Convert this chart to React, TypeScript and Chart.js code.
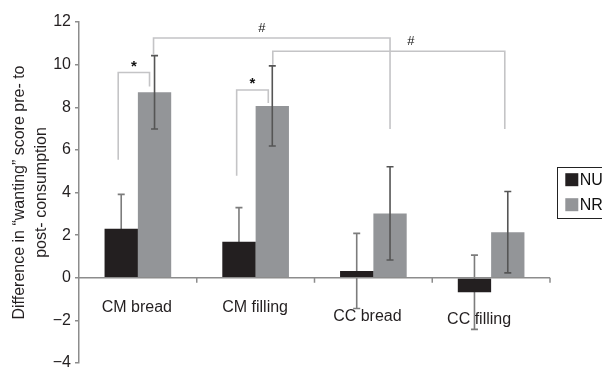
import React, { useEffect, useRef } from "react";
import { Chart, registerables } from "chart.js";

Chart.register(...registerables);

// ---------- data ----------
const categories = ["CM bread", "CM filling", "CC bread", "CC filling"];
const seriesNames = ["NU", "NR"];
const nuValues = [2.3, 1.69, 0.32, -0.68];
const nuErrors = [1.61, 1.6, 1.76, 1.74];
const nrValues = [8.7, 8.06, 3.02, 2.14];
const nrErrors = [1.72, 1.88, 2.19, 1.91];
const yTicks = [-4, -2, 0, 2, 4, 6, 8, 10, 12];
const yTitle = ["Difference in \u201cwanting\u201d score pre- to", "post- consumption"];

// significance brackets: [category, series] from -> to, levels [left leg bottom, top, right leg bottom]
const bracketFrom = [[0, 0], [1, 0], [0, 1], [1, 1]];
const bracketTo = [[0, 1], [1, 1], [2, 1], [3, 1]];
const bracketLevels = [
  [5.54, 9.63, 8.97],
  [4.79, 8.81, 8.2],
  [10.47, 11.25, 6.98],
  [10.0, 10.63, 6.98],
];
const bracketLabels = ["*", "*", "#", "#"];

// ---------- styles ----------
const FONT = "'Liberation Sans', Arial, Helvetica, sans-serif";
const NU_COLOR = "#231f20";
const NR_COLOR = "#939598";
const AXIS_COLOR = "#8c8c8c";
const TEXT_COLOR = "#231f20";
const ERR_COLORS = ["#7c7c7c", "#555555"];
const BRACKET_COLOR = "#c4c4c6";
const bracketLegDx = [[-3, -5], [-2.3, -4], [-1, 0], [0.5, -3]];
const bracketLabelT = [0.5, 0.5, 0.458, 0.595];
const bracketLabelGap = [2, 2, 6, 6];
const bracketLabelFont = ["bold 15px " + FONT, "bold 15px " + FONT, "13px " + FONT, "13px " + FONT];
const catLabelDx = [-1, -0.5, -6, -12];
const catLabelDy = [34.2, 34.2, 43.6, 45.9];

function drawErrors(chart: any, d: number) {
  const ctx = chart.ctx;
  const y = chart.scales.y;
  const vals = [nuValues, nrValues][d];
  const errs = [nuErrors, nrErrors][d];
  ctx.save();
  ctx.strokeStyle = ERR_COLORS[d];
  ctx.lineWidth = 1.6;
  const meta = chart.getDatasetMeta(d);
  meta.data.forEach((el: any, i: number) => {
    const x = el.x;
    const top = y.getPixelForValue(vals[i] + errs[i]);
    const bot = y.getPixelForValue(vals[i] - errs[i]);
    ctx.beginPath();
    ctx.moveTo(x, top);
    ctx.lineTo(x, bot);
    ctx.moveTo(x - 3.5, top);
    ctx.lineTo(x + 3.5, top);
    ctx.moveTo(x - 3.5, bot);
    ctx.lineTo(x + 3.5, bot);
    ctx.stroke();
  });
  ctx.restore();
}

const errorBarsPlugin = {
  id: "errorBars",
  beforeDatasetsDraw(chart: any) {
    drawErrors(chart, 0); // NU errors sit behind the black bars
  },
  afterDatasetsDraw(chart: any) {
    drawErrors(chart, 1); // NR errors drawn over the grey bars
  },
};

const xAxisPlugin = {
  id: "zeroAxis",
  afterDatasetsDraw(chart: any) {
    const ctx = chart.ctx;
    const x = chart.scales.x;
    const y = chart.scales.y;
    const y0 = y.getPixelForValue(0);
    const half = (x.getPixelForValue(1) - x.getPixelForValue(0)) / 2;
    ctx.save();
    ctx.strokeStyle = AXIS_COLOR;
    ctx.lineWidth = 1.5;
    ctx.beginPath();
    ctx.moveTo(chart.chartArea.left - 1, y0);
    ctx.lineTo(chart.chartArea.right, y0);
    categories.forEach((_, i) => {
      const bx = x.getPixelForValue(i) + half;
      ctx.moveTo(bx, y0);
      ctx.lineTo(bx, y0 + 5);
    });
    ctx.stroke();
    ctx.restore();
  },
};

const bracketsPlugin = {
  id: "brackets",
  afterDatasetsDraw(chart: any) {
    const ctx = chart.ctx;
    const y = chart.scales.y;
    ctx.save();
    bracketFrom.forEach((from, b) => {
      const to = bracketTo[b];
      const x1 = chart.getDatasetMeta(from[1]).data[from[0]].x + bracketLegDx[b][0];
      const x2 = chart.getDatasetMeta(to[1]).data[to[0]].x + bracketLegDx[b][1];
      const [l, t, r] = bracketLevels[b];
      const yl = y.getPixelForValue(l);
      const yt = y.getPixelForValue(t);
      const yr = y.getPixelForValue(r);
      ctx.strokeStyle = BRACKET_COLOR;
      ctx.lineWidth = 1.6;
      ctx.beginPath();
      ctx.moveTo(x1, yl);
      ctx.lineTo(x1, yt);
      ctx.lineTo(x2, yt);
      ctx.lineTo(x2, yr);
      ctx.stroke();
      ctx.fillStyle = "#111";
      ctx.font = bracketLabelFont[b];
      ctx.textAlign = "center";
      ctx.textBaseline = "alphabetic";
      ctx.fillText(bracketLabels[b], x1 + (x2 - x1) * bracketLabelT[b], yt - bracketLabelGap[b]);
    });
    ctx.restore();
  },
};

const textPlugin = {
  id: "texts",
  afterDraw(chart: any) {
    const ctx = chart.ctx;
    const x = chart.scales.x;
    const y = chart.scales.y;
    const area = chart.chartArea;
    const y0 = y.getPixelForValue(0);
    ctx.save();
    // category labels
    ctx.fillStyle = TEXT_COLOR;
    ctx.font = "16px " + FONT;
    ctx.textAlign = "center";
    ctx.textBaseline = "alphabetic";
    categories.forEach((c, i) => {
      ctx.fillText(c, x.getPixelForValue(i) + catLabelDx[i], y0 + catLabelDy[i]);
    });
    // y axis title
    const cy = (area.top + area.bottom) / 2;
    ctx.save();
    ctx.translate(20, cy);
    ctx.rotate(-Math.PI / 2);
    ctx.textBaseline = "middle";
    ctx.fillText(yTitle[0], 0, 0);
    ctx.fillText(yTitle[1], 0, 21.7);
    ctx.restore();
    // legend (partly outside the canvas, as in the original)
    const lx = area.right + 7.3;
    const ly = cy - 25.8;
    ctx.strokeStyle = "#222";
    ctx.lineWidth = 1;
    ctx.strokeRect(Math.round(lx) + 0.5, Math.round(ly) + 0.5, 80, 51);
    const colors = [NU_COLOR, NR_COLOR];
    const rowY = [cy - 12.8, cy + 12.2];
    ctx.textAlign = "left";
    ctx.textBaseline = "middle";
    ctx.font = "16px " + FONT;
    seriesNames.forEach((s, i) => {
      ctx.fillStyle = colors[i];
      ctx.fillRect(lx + 8, rowY[i] - 6.5, 13, 13);
      ctx.fillStyle = "#111";
      ctx.fillText(s, lx + 22.5, rowY[i] + 1);
    });
    ctx.restore();
  },
};

export default function App() {
  const ref = useRef<HTMLCanvasElement>(null);
  useEffect(() => {
    const canvas = ref.current;
    if (!canvas) return;
    const chart = new Chart(canvas, {
      type: "bar",
      data: {
        labels: categories,
        datasets: [
          { label: seriesNames[0], data: nuValues, backgroundColor: NU_COLOR, borderWidth: 0 },
          { label: seriesNames[1], data: nrValues, backgroundColor: NR_COLOR, borderWidth: 0 },
        ],
      },
      options: {
        animation: false,
        responsive: false,
        devicePixelRatio: 1,
        layout: { padding: { top: 22, right: 52, bottom: 4, left: 0 } },
        datasets: { bar: { categoryPercentage: 0.566, barPercentage: 1.0 } },
        plugins: { legend: { display: false }, tooltip: { enabled: false } },
        scales: {
          x: { display: false, offset: true },
          y: {
            min: -4,
            max: 12,
            afterBuildTicks: (s: any) => {
              s.ticks = yTicks.map((v) => ({ value: v }));
            },
            afterFit: (s: any) => {
              s.width = 79;
              s.paddingTop = 0;
              s.paddingBottom = 0;
            },
            ticks: {
              font: { family: FONT, size: 16 },
              color: TEXT_COLOR,
              padding: 4,
              callback: (v: any) => (v < 0 ? "\u2212" + Math.abs(v) : String(v)),
            },
            grid: { drawOnChartArea: false, drawTicks: true, tickLength: 4, color: AXIS_COLOR, lineWidth: 1.5 },
            border: { display: true, color: AXIS_COLOR, width: 1.5 },
          },
        },
      },
      plugins: [xAxisPlugin, errorBarsPlugin, bracketsPlugin, textPlugin],
    } as any);
    return () => chart.destroy();
  }, []);
  return (
    <div style={{ position: "fixed", left: 0, top: 0, width: 602, height: 367, background: "#fff" }}>
      <canvas ref={ref} width={602} height={367} style={{ width: 602, height: 367, display: "block" }} />
    </div>
  );
}
